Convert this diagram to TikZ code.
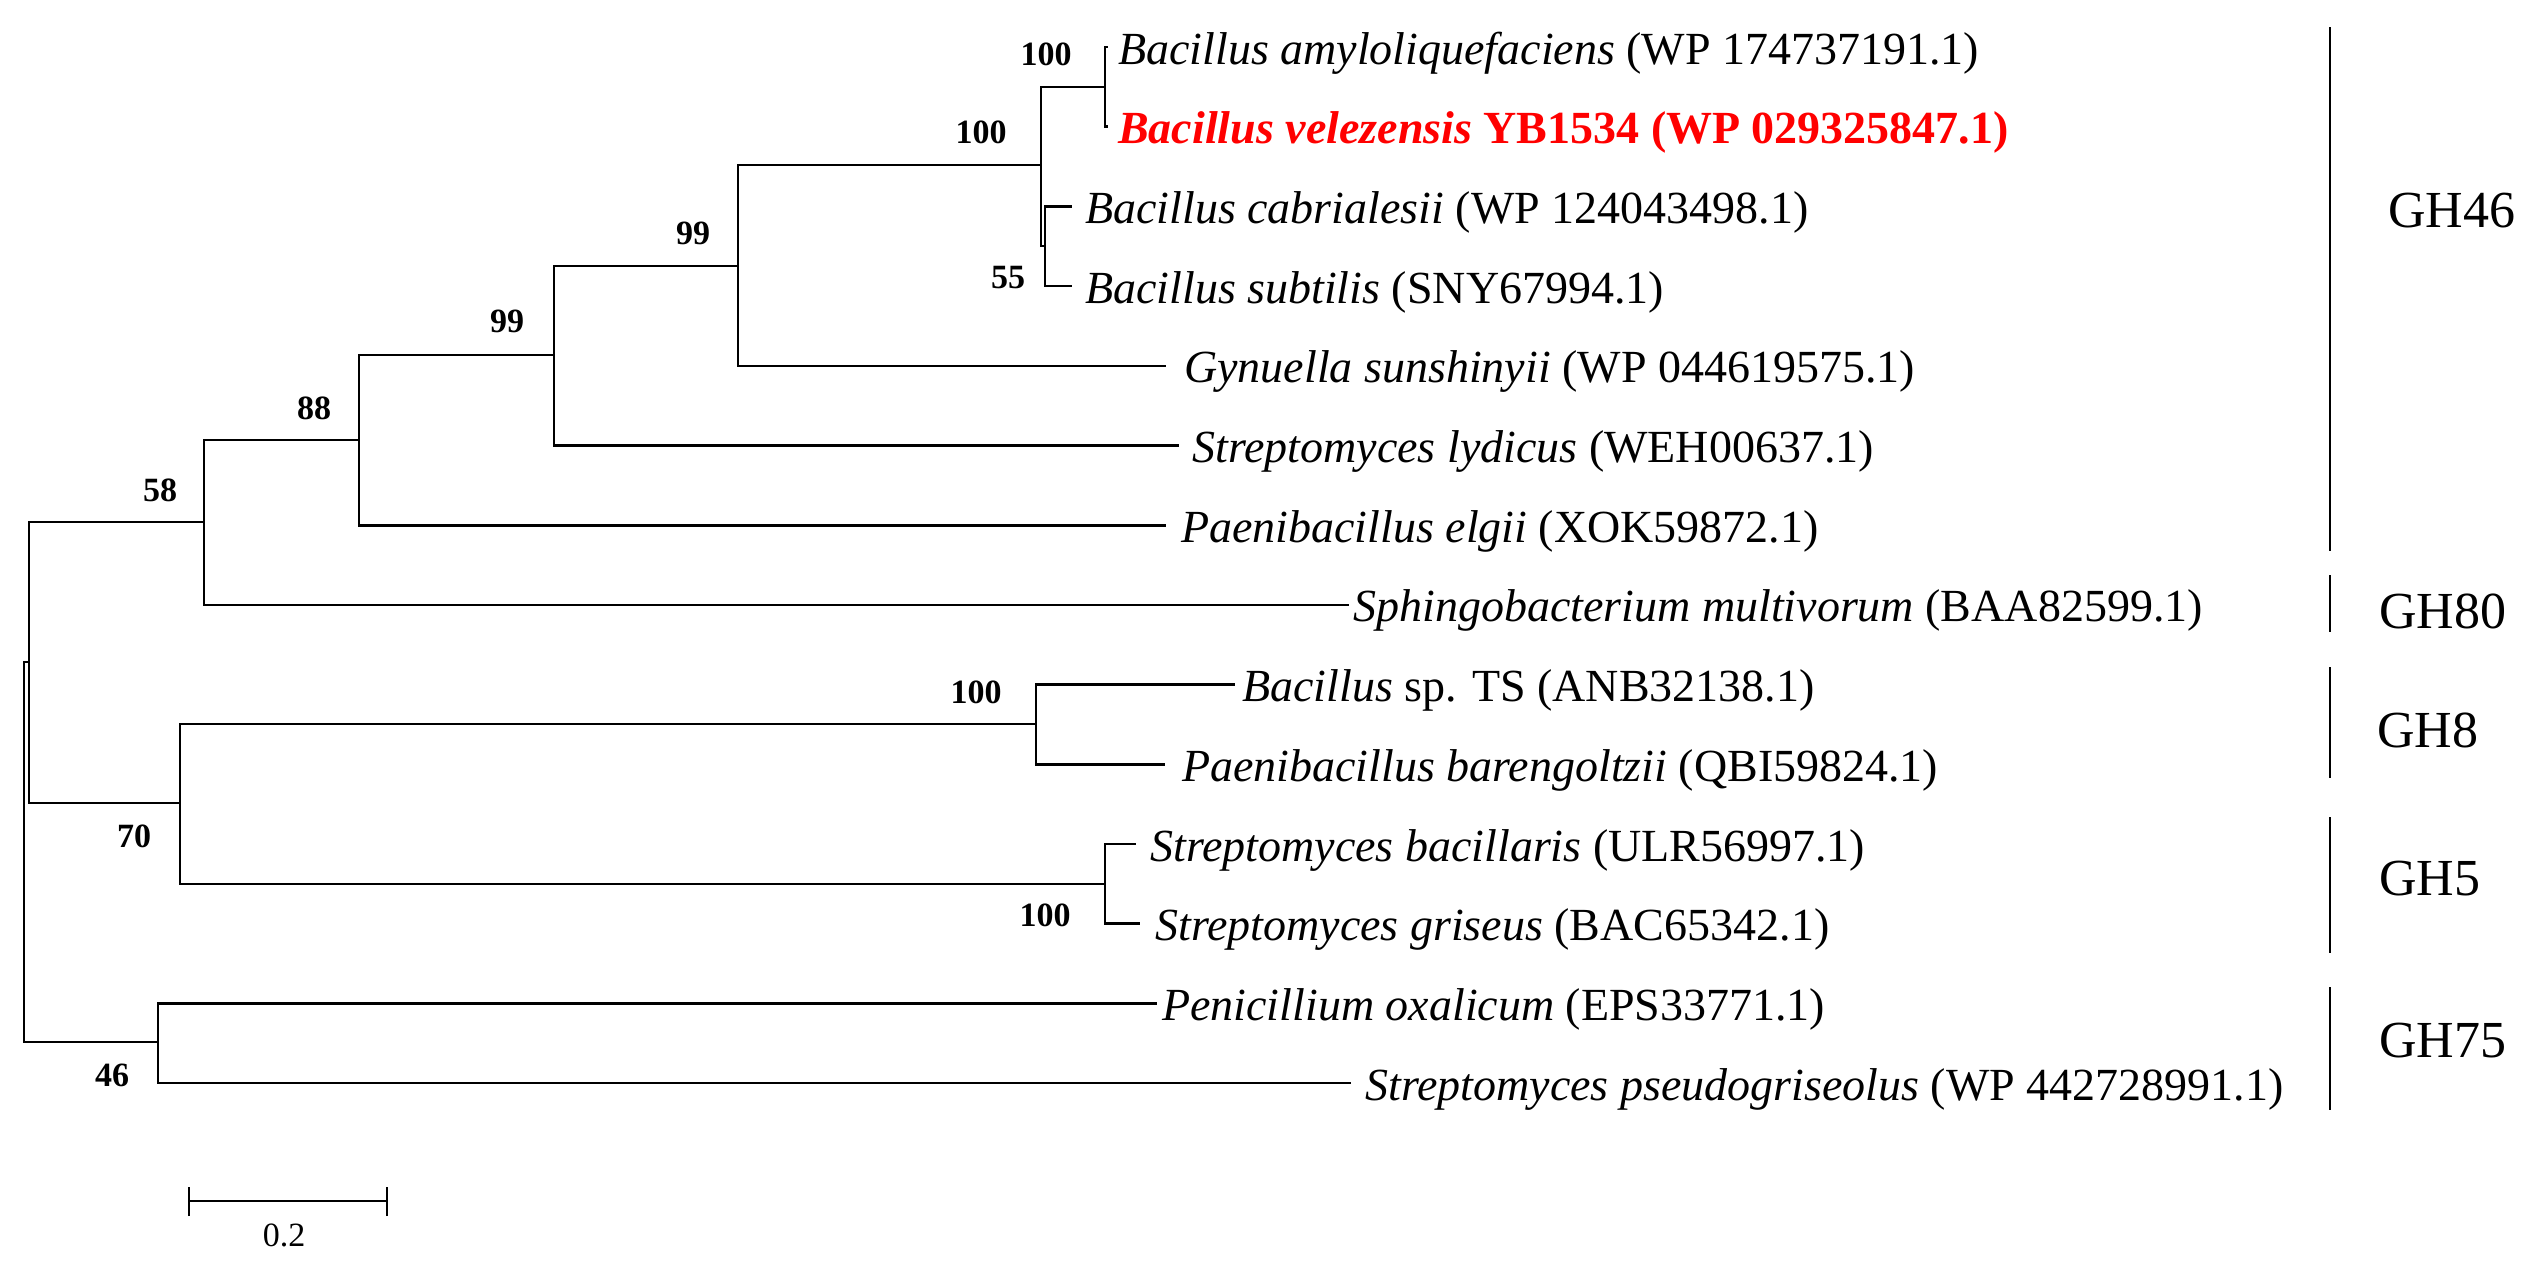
\documentclass[tikz,border=0pt]{standalone}
\usepackage{fontspec}
\setmainfont{Liberation Serif}
\definecolor{vred}{RGB}{255,0,0}
\begin{document}
\begin{tikzpicture}[x=1pt,y=-1pt,
  br/.style={line width=2.6pt,line join=miter},
  tip/.style={anchor=base west,inner sep=0pt,font=\fontsize{46}{50}\selectfont},
  boot/.style={inner sep=0pt,font=\fontsize{34}{40}\selectfont\bfseries},
  ghl/.style={anchor=west,inner sep=0pt,font=\fontsize{52}{58}\selectfont},
  ghbar/.style={line width=2.4pt},
  sclab/.style={inner sep=0pt,font=\fontsize{34}{40}\selectfont}]
\useasboundingbox (0,0) rectangle (2534,1270);
% tip ends
\coordinate (t1) at (1108,47);
\coordinate (t2) at (1108,126.7);
\coordinate (t3) at (1072,206.4);
\coordinate (t4) at (1072,286.1);
\coordinate (t5) at (1166,365.8);
\coordinate (t6) at (1179,445.5);
\coordinate (t7) at (1166,525.2);
\coordinate (t8) at (1349,604.9);
\coordinate (t9) at (1235,684.6);
\coordinate (t10) at (1165,764.3);
\coordinate (t11) at (1136,844);
\coordinate (t12) at (1140,923.7);
\coordinate (t13) at (1157,1003.4);
\coordinate (t14) at (1351,1083.1);
% internal nodes
\coordinate (nav) at (1105,87);
\coordinate (ncs) at (1045,246);
\coordinate (nbac) at (1041,165);
\coordinate (n99a) at (738,266);
\coordinate (n99b) at (554,355);
\coordinate (n88) at (359,440);
\coordinate (n58) at (204,522);
\coordinate (ngh8) at (1036,724);
\coordinate (ngh5) at (1105,884);
\coordinate (n70) at (180,803);
\coordinate (n46) at (158,1042);
\coordinate (nx) at (29,662);
\coordinate (root) at (24,852);
% branches
\draw[br] (root) |- (nx);
\draw[br] (root) |- (n46);
\draw[br] (nx) |- (n58);
\draw[br] (nx) |- (n70);
\draw[br] (n58) |- (n88);
\draw[br] (n58) |- (t8);
\draw[br] (n88) |- (n99b);
\draw[br] (n88) |- (t7);
\draw[br] (n99b) |- (n99a);
\draw[br] (n99b) |- (t6);
\draw[br] (n99a) |- (nbac);
\draw[br] (n99a) |- (t5);
\draw[br] (nbac) |- (nav);
\draw[br] (nbac) |- (ncs);
\draw[br] (nav) |- (t1);
\draw[br] (nav) |- (t2);
\draw[br] (ncs) |- (t3);
\draw[br] (ncs) |- (t4);
\draw[br] (n70) |- (ngh8);
\draw[br] (n70) |- (ngh5);
\draw[br] (ngh8) |- (t9);
\draw[br] (ngh8) |- (t10);
\draw[br] (ngh5) |- (t11);
\draw[br] (ngh5) |- (t12);
\draw[br] (n46) |- (t13);
\draw[br] (n46) |- (t14);
% tip labels
\node[tip] (l1) at (1118,64) {\textit{Bacillus amyloliquefaciens} (WP 174737191.1)};
\node[tip,text=vred] (l2) at (1118,143.7) {\bfseries\textit{Bacillus velezensis} YB1534 (WP 029325847.1)};
\node[tip] (l3) at (1085,223.4) {\textit{Bacillus cabrialesii} (WP 124043498.1)};
\node[tip] (l4) at (1085,303.1) {\textit{Bacillus subtilis} (SNY67994.1)};
\node[tip] (l5) at (1184,382.8) {\textit{Gynuella sunshinyii} (WP 044619575.1)};
\node[tip] (l6) at (1192,462.5) {\textit{Streptomyces lydicus} (WEH00637.1)};
\node[tip] (l7) at (1181,542.2) {\textit{Paenibacillus elgii} (XOK59872.1)};
\node[tip] (l8) at (1353,621.9) {\textit{Sphingobacterium multivorum} (BAA82599.1)};
\node[tip] (l9) at (1242,701.6) {\textit{Bacillus} sp. TS (ANB32138.1)};
\node[tip] (l10) at (1182,781.3) {\textit{Paenibacillus barengoltzii} (QBI59824.1)};
\node[tip] (l11) at (1150,861) {\textit{Streptomyces bacillaris} (ULR56997.1)};
\node[tip] (l12) at (1155,940.7) {\textit{Streptomyces griseus} (BAC65342.1)};
\node[tip] (l13) at (1162,1020.4) {\textit{Penicillium oxalicum} (EPS33771.1)};
\node[tip] (l14) at (1365,1100.1) {\textit{Streptomyces pseudogriseolus} (WP 442728991.1)};
% bootstrap values
\node[boot] (b1) at (1046,54) {100};
\node[boot] (b2) at (981,132) {100};
\node[boot] (b3) at (1008,278) {55};
\node[boot] (b4) at (693,233) {99};
\node[boot] (b5) at (507,321) {99};
\node[boot] (b6) at (314,408) {88};
\node[boot] (b7) at (160,490) {58};
\node[boot] (b8) at (976,692) {100};
\node[boot] (b9) at (1045,915) {100};
\node[boot] (b10) at (134,836) {70};
\node[boot] (b11) at (112,1075) {46};
% family bars
\draw[ghbar] (2330,27) -- (2330,551);
\draw[ghbar] (2330,575) -- (2330,632);
\draw[ghbar] (2330,667) -- (2330,778);
\draw[ghbar] (2330,817) -- (2330,953);
\draw[ghbar] (2330,987) -- (2330,1110);
\node[ghl] (g46) at (2388,211) {GH46};
\node[ghl] (g80) at (2379,611) {GH80};
\node[ghl] (g8) at (2377,730) {GH8};
\node[ghl] (g5) at (2379,879) {GH5};
\node[ghl] (g75) at (2379,1041) {GH75};
% scale bar
\coordinate (sbL) at (189,1201);
\coordinate (sbR) at (387,1201);
\draw[line width=2.8pt] (sbL) -- (sbR);
\draw[line width=2.8pt] ([yshift=-15pt]sbL) -- ([yshift=14pt]sbL);
\draw[line width=2.8pt] ([yshift=-15pt]sbR) -- ([yshift=14pt]sbR);
\node[sclab] (sc) at (284,1235) {0.2};
\end{tikzpicture}
\end{document}
